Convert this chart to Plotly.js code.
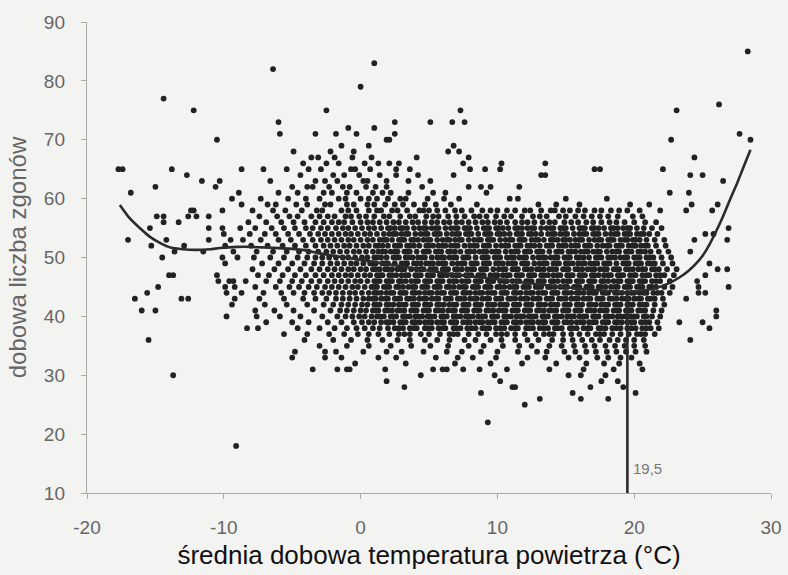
<!DOCTYPE html>
<html>
<head>
<meta charset="utf-8">
<script src="https://cdn.plot.ly/plotly-3.0.1.min.js"></script>
<style>
  html, body { margin: 0; padding: 0; background: #f3f3f1; }
  #chart { width: 788px; height: 575px; }
</style>
</head>
<body>
<div id="chart"></div>
<script>
// Daily death counts (rows) and the mean daily temperatures (°C) observed at each count
const rowCounts = [85, 83, 82, 79, 77, 76, 75, 73, 72, 71, 70, 69, 68, 67, 66, 65, 64, 63, 62, 61, 60, 59, 58,
  57, 56, 55, 54, 53, 52, 51, 50, 49, 48, 47, 46, 45, 44, 43, 42, 41, 40, 39, 38, 37, 36, 35, 34, 33, 32, 31,
  30, 29, 28, 27, 26, 25, 22, 18];

const rowTemps = [
  "28.3",
  "1.0",
  "-6.4",
  "0.0",
  "-14.4",
  "26.2",
  "-12.2 -2.5 7.3 23.1",
  "-6.0 2.5 5.1 6.7 7.6",
  "-0.9 1.0",
  "-5.9 -3.3 -1.8 -0.3 2.5 27.7",
  "-10.5 1.9 2.1 22.7 28.5",
  "-1.4 0.6 6.8",
  "-4.9 -2.2 -0.5 6.4 7.2",
  "-3.6 -3.1 -1.9 -0.6 0.8 4.1 7.9 24.4",
  "-4.2 -2.5 -1.6 0.3 1.3 2.1 2.8 7.5 10.3 13.5",
  "-17.7 -17.4 -13.8 -8.7 -7.1 -5.4 -3.8 -2.9 -0.7 -0.4 0.7 2.6 3.6 8.0 9.1 10.2 17.1 17.5 22.1",
  "-12.7 -4.4 -2.0 -1.2 -0.1 1.4 2.6 4.2 6.8 13.2 13.5 24.1 25.0",
  "-11.6 -10.3 -6.6 -3.3 -2.6 -1.7 0.2 0.5 1.9 3.5 5.1 26.5",
  "-15.0 -10.6 -5.0 -3.9 -3.5 -2.3 -1.3 -0.8 0.4 1.1 1.9 4.5 7.9 8.8 9.5 11.6",
  "-16.8 -8.9 -6.0 -4.6 -2.7 -2.1 -1.0 -0.3 0.9 1.6 2.2 3.5 5.3 6.2 9.2 22.6 24.0",
  "-9.4 -7.3 -5.3 -4.0 -3.0 -1.6 -1.1 0.0 0.6 1.2 2.0 2.9 3.3 4.9 6.1 7.2 10.9 11.5 15.0 18.0",
  "-8.7 -6.8 -6.2 -4.7 -3.9 -2.6 -2.2 -1.0 -0.5 0.5 1.0 1.8 2.5 3.1 3.9 4.7 5.5 6.6 8.5 13.0 14.3 16.0 19.7 21.1 24.2 26.1",
  "-12.4 -12.2 -10.1 -7.9 -6.4 -5.5 -4.3 -3.2 -2.8 -1.4 -0.9 -0.3 0.6 1.2 1.5 2.3 2.7 3.4 4.3 4.6 5.0 5.6 6.2 6.9 7.4 8.1 8.9 9.5 10.0 10.7 11.3 12.0 12.4 13.2 13.9 14.2 14.8 15.3 15.9 16.4 17.1 17.6 18.3 18.9 19.5 20.4 21.9 23.8 25.7",
  "-14.9 -14.4 -12.6 -12.0 -11.1 -7.4 -6.1 -5.2 -4.6 -3.6 -3.0 -2.4 -1.9 -1.1 -0.7 -0.1 0.4 1.0 1.7 2.1 2.9 3.6 4.0 4.8 5.3 5.7 6.4 7.0 7.6 8.3 8.7 9.2 9.9 10.5 11.0 11.8 12.6 13.1 13.6 14.5 15.0 15.7 16.3 16.9 17.5 18.1 18.8 19.9 20.6",
  "-14.4 -13.3 -8.2 -6.9 -5.8 -4.9 -4.1 -3.3 -2.7 -2.1 -1.6 -1.2 -0.6 0.0 0.5 0.9 1.4 1.9 2.4 2.8 3.3 3.8 4.2 4.7 5.2 5.6 6.1 6.5 7.0 7.4 7.9 8.4 8.9 9.3 9.8 10.2 10.7 11.3 11.8 12.2 12.7 13.3 13.8 14.2 14.9 15.4 15.9 16.5 17.0 17.6 18.2 18.7 19.3 20.0 20.8 21.6",
  "-15.4 -11.1 -10.1 -8.8 -7.7 -6.5 -5.6 -4.8 -4.0 -3.5 -2.9 -2.4 -1.8 -1.3 -0.9 -0.4 0.1 0.6 1.0 1.5 2.0 2.5 2.9 3.4 3.9 4.3 4.8 5.2 5.7 6.2 6.6 7.1 7.6 8.0 8.5 9.0 9.4 9.9 10.4 10.8 11.3 11.8 12.2 12.7 13.2 13.6 14.1 14.6 15.0 15.5 16.0 16.4 16.9 17.4 17.8 18.3 18.8 19.2 19.7 20.2 20.7 21.3 22.0 26.9",
  "-10.0 -8.1 -7.0 -6.2 -5.3 -4.5 -3.7 -3.1 -2.6 -2.1 -1.6 -1.1 -0.7 -0.2 0.3 0.7 1.2 1.7 2.1 2.6 3.0 3.5 4.0 4.4 4.9 5.4 5.8 6.3 6.7 7.2 7.7 8.1 8.6 9.1 9.5 10.0 10.5 10.9 11.4 11.8 12.3 12.8 13.2 13.7 14.2 14.6 15.1 15.6 16.0 16.5 17.0 17.4 17.9 18.3 18.8 19.3 19.7 20.2 20.7 21.1 21.7 25.2 25.8",
  "-17.0 -14.2 -11.1 -9.5 -8.6 -7.3 -6.0 -5.1 -4.2 -3.5 -2.9 -2.4 -1.9 -1.4 -0.9 -0.5 0.0 0.5 0.9 1.4 1.9 2.3 2.8 3.2 3.7 4.2 4.6 5.1 5.6 6.0 6.5 6.9 7.4 7.9 8.3 8.8 9.3 9.7 10.2 10.6 11.1 11.6 12.0 12.5 13.0 13.4 13.9 14.4 14.8 15.3 15.7 16.2 16.7 17.1 17.6 18.1 18.5 19.0 19.5 19.9 20.4 20.9 21.5 22.2 24.4 26.8",
  "-15.3 -12.9 -9.9 -8.0 -6.8 -5.7 -4.8 -4.0 -3.3 -2.7 -2.2 -1.7 -1.2 -0.8 -0.3 0.2 0.6 1.1 1.6 2.0 2.5 2.9 3.4 3.9 4.3 4.8 5.3 5.7 6.2 6.6 7.1 7.6 8.0 8.5 9.0 9.4 9.9 10.3 10.8 11.3 11.7 12.2 12.7 13.1 13.6 14.0 14.5 15.0 15.4 15.9 16.4 16.8 17.3 17.7 18.2 18.7 19.1 19.6 20.1 20.5 21.0 21.6 22.3",
  "-13.6 -11.5 -9.3 -7.6 -6.4 -5.4 -4.5 -3.8 -3.1 -2.5 -2.0 -1.5 -1.0 -0.5 -0.1 0.4 0.9 1.3 1.8 2.2 2.7 3.2 3.6 4.1 4.6 5.0 5.5 5.9 6.4 6.9 7.3 7.8 8.3 8.7 9.2 9.6 10.1 10.6 11.0 11.5 12.0 12.4 12.9 13.3 13.8 14.3 14.7 15.2 15.7 16.1 16.6 17.0 17.5 18.0 18.4 18.9 19.4 19.8 20.3 20.8 21.2 21.8 22.5 24.1",
  "-14.5 -10.1 -9.0 -7.8 -6.6 -5.6 -4.6 -3.9 -3.3 -2.8 -2.3 -1.8 -1.3 -0.9 -0.4 0.1 0.5 1.0 1.5 1.9 2.4 2.8 3.3 3.8 4.2 4.7 5.2 5.6 6.1 6.5 7.0 7.5 7.9 8.4 8.9 9.3 9.8 10.2 10.7 11.2 11.6 12.1 12.6 13.0 13.5 13.9 14.4 14.9 15.3 15.8 16.3 16.7 17.2 17.6 18.1 18.6 19.0 19.5 20.0 20.4 20.9 21.4 22.0 22.7",
  "-9.9 -7.2 -6.0 -5.0 -4.1 -3.4 -2.8 -2.2 -1.7 -1.2 -0.7 -0.3 0.2 0.7 1.1 1.6 2.0 2.5 3.0 3.4 3.9 4.4 4.8 5.3 5.7 6.2 6.7 7.1 7.6 8.1 8.5 9.0 9.4 9.9 10.4 10.8 11.3 11.8 12.2 12.7 13.1 13.6 14.1 14.5 15.0 15.5 15.9 16.4 16.8 17.3 17.8 18.2 18.7 19.2 19.6 20.1 20.5 21.0 21.5 22.1 22.8 25.5",
  "-7.9 -6.3 -5.3 -4.4 -3.6 -3.0 -2.4 -1.9 -1.4 -0.9 -0.5 0.0 0.4 0.9 1.4 1.8 2.3 2.7 3.2 3.7 4.1 4.6 5.1 5.5 6.0 6.4 6.9 7.4 7.8 8.3 8.8 9.2 9.7 10.1 10.6 11.1 11.5 12.0 12.5 12.9 13.4 13.8 14.3 14.8 15.2 15.7 16.2 16.6 17.1 17.5 18.0 18.5 18.9 19.4 19.9 20.3 20.8 21.3 21.8 22.4 23.1 26.1 26.8",
  "-14.0 -13.7 -10.5 -7.5 -6.7 -5.7 -4.8 -4.0 -3.3 -2.7 -2.1 -1.6 -1.1 -0.7 -0.2 0.3 0.7 1.2 1.6 2.1 2.6 3.0 3.5 4.0 4.4 4.9 5.3 5.8 6.3 6.7 7.2 7.7 8.1 8.6 9.0 9.5 10.0 10.4 10.9 11.4 11.8 12.3 12.7 13.2 13.7 14.1 14.6 15.1 15.5 16.0 16.4 16.9 17.4 17.8 18.3 18.8 19.2 19.7 20.1 20.6 21.1 21.6 22.2 22.9 25.2",
  "-10.4 -9.6 -9.3 -8.4 -6.9 -5.9 -5.0 -4.3 -3.6 -3.0 -2.4 -1.9 -1.4 -0.9 -0.4 0.0 0.5 1.0 1.4 1.9 2.3 2.8 3.3 3.7 4.2 4.7 5.1 5.6 6.0 6.5 7.0 7.4 7.9 8.4 8.8 9.3 9.7 10.2 10.7 11.1 11.6 12.1 12.5 13.0 13.4 13.9 14.4 14.8 15.3 15.8 16.2 16.7 17.1 17.6 18.1 18.5 19.0 19.5 19.9 20.4 20.8 21.3 21.9 22.6 24.6",
  "-14.8 -9.9 -9.2 -7.7 -6.2 -5.2 -4.5 -3.8 -3.2 -2.6 -2.1 -1.6 -1.1 -0.6 -0.2 0.3 0.8 1.2 1.7 2.1 2.6 3.1 3.5 4.0 4.5 4.9 5.4 5.8 6.3 6.8 7.2 7.7 8.2 8.6 9.1 9.5 10.0 10.5 10.9 11.4 11.9 12.3 12.8 13.2 13.7 14.2 14.6 15.1 15.6 16.0 16.5 16.9 17.4 17.9 18.3 18.8 19.3 19.7 20.2 20.6 21.1 21.6 22.2 22.8 24.7 26.9",
  "-15.6 -9.8 -8.7 -7.1 -5.8 -4.9 -4.1 -3.4 -2.8 -2.3 -1.8 -1.3 -0.8 -0.4 0.1 0.6 1.0 1.5 1.9 2.4 2.9 3.3 3.8 4.3 4.7 5.2 5.6 6.1 6.6 7.0 7.5 8.0 8.4 8.9 9.3 9.8 10.3 10.7 11.2 11.7 12.1 12.6 13.0 13.5 14.0 14.4 14.9 15.4 15.8 16.3 16.7 17.2 17.7 18.1 18.6 19.1 19.5 20.0 20.4 20.9 21.4 22.0 22.6 24.7 25.2",
  "-16.5 -13.1 -12.6 -9.2 -7.4 -5.6 -4.2 -3.3 -2.5 -1.8 -1.3 -0.8 -0.3 0.2 0.6 1.1 1.5 2.0 2.5 2.9 3.4 3.9 4.3 4.8 5.2 5.7 6.2 6.6 7.1 7.6 8.0 8.5 8.9 9.4 9.9 10.3 10.8 11.3 11.7 12.2 12.6 13.1 13.6 14.0 14.5 15.0 15.4 15.9 16.3 16.8 17.3 17.7 18.2 18.7 19.1 19.6 20.0 20.5 21.0 21.5 22.1 23.8",
  "-9.4 -7.0 -5.4 -3.9 -2.7 -2.0 -1.4 -0.9 -0.4 0.1 0.5 1.0 1.4 1.9 2.4 2.8 3.3 3.8 4.2 4.7 5.1 5.6 6.1 6.5 7.0 7.5 7.9 8.4 8.8 9.3 9.8 10.2 10.7 11.2 11.6 12.1 12.5 13.0 13.5 13.9 14.4 14.9 15.3 15.8 16.2 16.7 17.2 17.6 18.1 18.6 19.0 19.5 19.9 20.4 20.9 21.5 22.2",
  "-16.0 -15.0 -7.7 -6.3 -4.9 -3.4 -2.2 -1.5 -1.0 -0.5 0.0 0.4 0.9 1.3 1.8 2.3 2.7 3.2 3.7 4.1 4.6 5.0 5.5 6.0 6.4 6.9 7.4 7.8 8.3 8.7 9.2 9.7 10.1 10.6 11.1 11.5 12.0 12.4 12.9 13.4 13.8 14.3 14.8 15.2 15.7 16.1 16.6 17.1 17.5 18.0 18.5 18.9 19.4 19.8 20.3 20.8 21.4 22.0 26.0",
  "-9.8 -7.6 -5.9 -4.4 -2.8 -1.7 -1.1 -0.6 -0.1 0.3 0.8 1.2 1.7 2.2 2.6 3.1 3.6 4.0 4.5 4.9 5.4 5.9 6.3 6.8 7.3 7.7 8.2 8.6 9.1 9.6 10.0 10.5 11.0 11.4 11.9 12.3 12.8 13.3 13.7 14.2 14.7 15.1 15.6 16.0 16.5 17.0 17.4 17.9 18.4 18.8 19.3 19.7 20.2 20.7 21.3 21.9 26.0",
  "-6.9 -5.0 -3.8 -2.4 -1.4 -0.5 0.1 0.6 1.0 1.5 1.9 2.4 2.9 3.3 3.8 4.3 4.7 5.2 5.6 6.1 6.6 7.0 7.5 8.0 8.4 8.9 9.3 9.8 10.3 10.7 11.2 11.7 12.1 12.6 13.0 13.5 14.0 14.4 14.9 15.4 15.8 16.3 16.7 17.2 17.7 18.1 18.6 19.1 19.5 20.0 20.5 21.1 21.7 23.3 25.0",
  "-8.3 -7.5 -4.6 -3.0 -1.9 -1.0 -0.3 0.3 0.9 1.4 2.0 2.5 3.1 3.6 4.1 4.7 5.2 5.7 6.2 6.8 7.3 7.8 8.4 8.9 9.4 9.9 10.5 11.0 11.5 12.1 12.6 13.1 13.7 14.2 14.7 15.3 15.8 16.3 16.8 17.4 17.9 18.4 19.0 19.5 20.1 20.6 21.2 21.8 25.5",
  "-5.6 -3.9 -2.3 -1.2 -0.2 0.6 1.3 2.1 2.8 3.6 4.4 5.0 5.8 6.5 7.1 7.9 8.6 9.2 9.9 10.7 11.3 12.0 12.8 13.4 14.1 14.8 15.4 16.0 16.6 17.2 17.8 18.4 19.0 19.6 20.2 20.8 21.5",
  "-15.5 -4.1 -2.0 -0.7 0.5 1.6 2.7 3.6 4.7 5.6 6.5 7.6 8.4 9.5 10.3 11.3 12.2 13.0 14.0 14.8 15.5 16.2 16.9 17.5 18.2 18.8 19.4 20.0 20.7 24.1",
  "-3.0 -1.0 0.6 2.2 3.7 5.1 6.4 7.9 9.0 10.4 11.6 12.5 13.8 14.7 15.6 16.4 17.1 17.9 18.6 19.3 20.0 20.8",
  "-4.8 -2.6 -1.8 0.2 1.9 3.0 4.6 6.3 7.4 8.8 10.0 11.5 12.9 13.6 14.9 15.7 16.5 17.2 18.0 18.7 19.4 20.1 20.9",
  "-5.0 -2.6 -1.4 1.3 2.6 5.5 7.1 8.2 9.9 12.2 13.5 15.2 16.0 17.3 18.1 19.0 19.8",
  "-0.4 3.3 6.9 9.5 11.8 14.3 16.5 17.8 18.9 20.4",
  "-3.5 -1.7 -1.0 -0.8 1.8 5.3 6.0 6.3 7.5 8.7 10.7 13.8 16.3 18.5 20.6",
  "-13.7 4.4 9.8 15.2 16.1 17.9",
  "1.9 10.2 17.6 18.8",
  "3.2 11.1 11.3 16.8 19.2",
  "8.8 15.5 20.1",
  "13.1 16.1 18.1",
  "12.0",
  "9.3",
  "-9.1"
];

// Further days in the crowded core of the cloud (same death counts, more temperatures)
const coreCounts = [55, 54, 53, 52, 51, 50, 49, 48, 47, 46, 45, 44, 43, 42, 41, 40, 39, 38, 37];
const coreTemps = [
  "2.2 3.1 4.6 5.5 6.9 7.8 9.2 10.1 11.5 12.5 13.9 14.8 16.2 17.1 18.5 19.5",
  "2.4 3.3 4.7 5.6 7.0 7.9 9.3 10.2 11.6 12.5 14.0 14.9 16.3 17.2 18.6 19.5 20.5",
  "1.7 3.0 3.9 4.9 6.3 7.2 8.6 9.5 10.9 11.8 12.8 14.1 15.0 16.0 17.4 18.3 19.3 20.1",
  "1.3 2.7 3.6 5.0 6.0 6.9 8.3 9.2 10.6 11.5 12.4 13.8 14.8 15.7 16.6 18.0 18.9 19.9 20.8",
  "1.6 2.5 3.4 4.8 5.7 6.6 8.0 9.0 9.9 11.3 12.2 13.1 14.5 15.4 16.4 17.3 18.7 19.6 20.5",
  "1.2 2.6 3.5 4.5 5.9 6.8 7.7 9.1 10.0 11.0 11.9 13.3 14.2 15.1 16.0 17.4 18.3 19.3 20.2 21.1",
  "0.9 1.8 3.2 4.1 5.0 6.0 7.4 8.3 9.2 10.1 11.1 12.0 13.4 14.3 15.2 16.2 17.1 18.0 19.4 20.3 21.2",
  "1.1 2.0 3.0 4.4 5.3 6.2 7.1 8.1 9.0 10.4 11.3 12.2 13.1 14.0 15.0 15.9 16.9 17.8 18.7 19.6 20.6 21.5",
  "1.4 2.3 3.3 4.2 5.1 6.0 7.0 7.9 8.8 9.8 10.7 11.6 12.5 13.4 14.4 15.3 16.2 17.1 18.1 19.0 20.0 20.9 21.9",
  "1.2 2.1 3.0 4.0 4.9 5.8 6.8 7.7 8.6 9.5 10.5 11.4 12.3 13.2 14.1 15.1 16.0 16.9 17.8 18.8 19.7 20.6 21.6",
  "1.0 1.9 2.8 3.8 4.7 5.6 6.5 7.5 8.4 9.3 10.2 11.2 12.1 13.0 13.9 14.9 15.8 16.7 17.6 18.6 19.5 20.4 21.3",
  "1.2 2.2 3.1 4.0 5.0 5.9 6.8 7.7 8.7 9.6 10.5 11.4 12.4 13.3 14.2 15.1 16.0 17.0 17.9 18.8 19.8 20.7 21.7",
  "0.9 1.8 2.7 3.6 4.6 5.5 6.4 7.3 8.3 9.2 10.1 11.0 12.0 12.9 13.8 14.7 15.7 16.6 17.5 18.4 19.4 20.3 21.2",
  "1.2 2.1 3.1 4.0 4.9 5.8 6.8 7.7 8.6 9.6 10.5 11.4 12.3 13.2 14.2 15.1 16.0 16.9 17.9 18.8 19.7 20.7",
  "1.1 2.0 2.9 3.9 4.8 5.7 6.7 7.6 8.5 9.4 10.4 11.3 12.2 13.1 14.0 15.0 15.9 16.8 17.8 18.7 19.6 20.5",
  "1.4 2.4 3.3 4.2 5.1 6.1 7.0 7.9 8.9 9.8 10.7 11.7 12.6 13.5 14.4 15.4 16.3 17.2 18.1 19.0 20.0 20.9",
  "2.1 3.1 4.0 5.0 5.9 6.8 7.8 8.7 9.6 10.5 11.4 12.4 13.3 14.2 15.1 16.1 17.0 17.9 18.8 19.8 20.8",
  "2.8 3.9 4.9 6.0 7.0 8.1 9.1 10.2 11.3 12.3 13.4 14.4 15.5 16.6 17.6 18.7 19.8 20.9",
  "3.2 6.8 10.3 13.8 17.5 20.5"
];

// Smoothed (LOESS-type) curve
const curveTemp = [-17.6, -17.0, -16.0, -15.4, -14.6, -13.9, -13.0, -12.0, -11.0, -10.3, -9.0, -8.0, -7.0, -6.0, -5.2, -4.0, -3.0, -2.0, -0.8, 0.0, 1.6, 3.0, 4.0, 6.0, 8.0, 10.0, 12.0, 14.0, 16.0, 18.0, 19.5, 20.5, 21.6, 22.6, 23.3, 24.0, 24.5, 25.0, 25.5, 26.0, 26.5, 27.0, 27.5, 28.0, 28.5];
const curveDeaths = [58.9, 57.0, 54.7, 53.5, 52.4, 51.7, 51.4, 51.3, 51.4, 51.6, 51.8, 51.8, 51.7, 51.6, 51.5, 51.2, 50.7, 50.3, 49.9, 49.6, 49.0, 48.5, 48.1, 47.4, 46.8, 46.3, 45.7, 45.2, 44.7, 44.3, 44.1, 44.3, 44.8, 45.7, 46.6, 47.8, 48.9, 50.3, 52.2, 54.5, 57.0, 59.8, 62.5, 65.4, 68.3];

// Threshold temperature marked on the chart
const thresholdTemp = [19.5, 19.5];
const thresholdDeaths = [10, 44.1];
const thresholdLabel = "19,5";

const xTicks = [-20, -10, 0, 10, 20, 30];
const yTicks = [10, 20, 30, 40, 50, 60, 70, 80, 90];

const xs = [], ys = [];
function addRows(counts, temps) {
  counts.forEach((c, i) => {
    temps[i].trim().split(/\s+/).forEach(t => { xs.push(parseFloat(t)); ys.push(c); });
  });
}
addRows(rowCounts, rowTemps);
addRows(coreCounts, coreTemps);

const fontFam = "Arial, 'Liberation Sans', sans-serif";

const traces = [
  {
    type: "scatter", mode: "markers", x: xs, y: ys,
    marker: { color: "#222", size: 5.8, line: { width: 0 } },
    hoverinfo: "skip", showlegend: false
  },
  {
    type: "scatter", mode: "lines", x: curveTemp, y: curveDeaths,
    line: { color: "#2b2b2b", width: 2.6, shape: "spline", smoothing: 0.5 },
    showlegend: false
  },
  {
    type: "scatter", mode: "lines", x: thresholdTemp, y: thresholdDeaths,
    line: { color: "#2b2b2b", width: 2.6 },
    showlegend: false
  }
];

const layout = {
  width: 788, height: 575,
  margin: { l: 87, r: 17, t: 22, b: 82 },
  paper_bgcolor: "#f3f3f1",
  plot_bgcolor: "#f3f3f1",
  font: { family: fontFam, color: "#666" },
  showlegend: false,
  xaxis: {
    range: [-20, 30], tickvals: xTicks, ticktext: xTicks.map(String),
    showgrid: false, zeroline: false, showline: true, linecolor: "#aaa", linewidth: 1.2,
    ticks: "outside", ticklen: 5, tickcolor: "#aaa", ticklabelstandoff: 12,
    tickfont: { size: 19, color: "#666", family: fontFam },
    title: { text: "średnia dobowa temperatura powietrza (°C)", font: { size: 26, color: "#111", family: fontFam }, standoff: 8 }
  },
  yaxis: {
    range: [10, 90], tickvals: yTicks, ticktext: yTicks.map(String),
    showgrid: false, zeroline: false, showline: true, linecolor: "#aaa", linewidth: 1.2,
    ticks: "outside", ticklen: 5, tickcolor: "#aaa", ticklabelstandoff: 12,
    tickfont: { size: 19, color: "#666", family: fontFam },
    title: { text: "dobowa liczba zgonów", font: { size: 24, color: "#666", family: fontFam }, standoff: 10 }
  },
  annotations: [
    { x: thresholdTemp[0], y: 14.2, xref: "x", yref: "y", text: thresholdLabel, showarrow: false,
      xanchor: "left", xshift: 4, font: { size: 15, color: "#777", family: fontFam } }
  ]
};

Plotly.newPlot("chart", traces, layout, { displayModeBar: false, staticPlot: true });
</script>
</body>
</html>
